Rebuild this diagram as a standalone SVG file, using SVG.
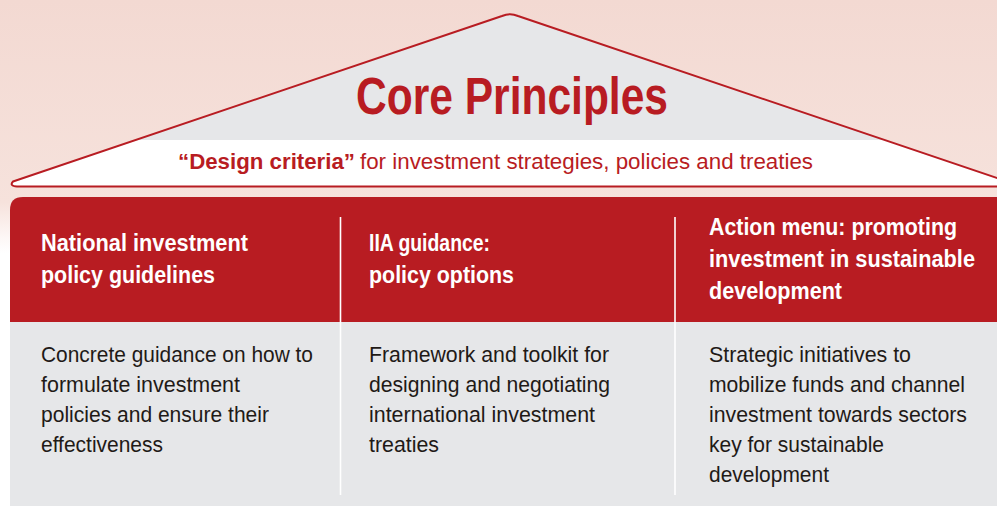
<svg xmlns="http://www.w3.org/2000/svg" width="997" height="506" viewBox="0 0 997 506">
  <defs>
    <linearGradient id="bg" x1="0" y1="0" x2="0" y2="506" gradientUnits="userSpaceOnUse">
      <stop offset="0" stop-color="#f3d9d2"/>
      <stop offset="0.40" stop-color="#f6e2dc"/>
      <stop offset="0.47" stop-color="#fdf7f6"/>
      <stop offset="0.50" stop-color="#ffffff"/>
      <stop offset="1" stop-color="#ffffff"/>
    </linearGradient>
    <linearGradient id="roofFill" x1="0" y1="0" x2="0" y2="200" gradientUnits="userSpaceOnUse">
      <stop offset="0" stop-color="#e6e7e9"/>
      <stop offset="0.70" stop-color="#e6e7e9"/>
      <stop offset="0.70" stop-color="#ffffff"/>
      <stop offset="1" stop-color="#ffffff"/>
    </linearGradient>
    <style>
      .title { font-family: "Liberation Sans Narrow", "Liberation Sans", Arial, sans-serif; font-weight: bold; fill: #b81c22; }
      .sub { font-family: "Liberation Sans Narrow", "Liberation Sans", Arial, sans-serif; font-size: 22px; fill: #b81c22; }
      .head { font-family: "Liberation Sans Narrow", "Liberation Sans", Arial, sans-serif; font-size: 24px; font-weight: bold; fill: #ffffff; }
      .body { font-family: "Liberation Sans Narrow", "Liberation Sans", Arial, sans-serif; font-size: 22px; fill: #1f1a17; }
      .divider { stroke: #ffffff; stroke-width: 1.6; }
    </style>
  </defs>

  <!-- background wash -->
  <rect x="0" y="0" width="997" height="506" fill="url(#bg)"/>

  <!-- roof -->
  <g id="roof">
    <path d="M 17,186.5 Q 9,186 13,181.5 L 502,16 Q 510,12.5 518,16 L 1022,186.5 Z" fill="url(#roofFill)" stroke="#b81c22" stroke-width="2" stroke-linejoin="round"/>
    <text class="title" x="356" y="114" font-size="51" textLength="312" lengthAdjust="spacingAndGlyphs">Core Principles</text>
    <text class="sub" y="169"><tspan x="178" font-weight="bold" textLength="177" lengthAdjust="spacingAndGlyphs">“Design criteria”</tspan><tspan x="360" textLength="453" lengthAdjust="spacingAndGlyphs">for investment strategies, policies and treaties</tspan></text>
  </g>

  <!-- header band and body panel -->
  <g id="table">
    <path d="M 10,210 Q 10,197 23,197 L 997,197 L 997,322 L 10,322 Z" fill="#b81c22"/>
    <rect x="10" y="322" width="987" height="184" fill="#e6e7e9"/>
  </g>

  <g id="dividers">
    <line class="divider" x1="340.5" y1="217" x2="340.5" y2="495"/>
    <line class="divider" x1="675" y1="217" x2="675" y2="495"/>
  </g>

  <g id="col-national">
    <text class="head" x="41" y="251" textLength="207" lengthAdjust="spacingAndGlyphs">National investment</text>
    <text class="head" x="41" y="283" textLength="174" lengthAdjust="spacingAndGlyphs">policy guidelines</text>
    <text class="body" x="41" y="362" textLength="272" lengthAdjust="spacingAndGlyphs">Concrete guidance on how to</text>
    <text class="body" x="41" y="392" textLength="199" lengthAdjust="spacingAndGlyphs">formulate investment</text>
    <text class="body" x="41" y="422" textLength="228" lengthAdjust="spacingAndGlyphs">policies and ensure their</text>
    <text class="body" x="41" y="452" textLength="122" lengthAdjust="spacingAndGlyphs">effectiveness</text>
  </g>

  <g id="col-iia">
    <text class="head" x="369" y="251" textLength="121" lengthAdjust="spacingAndGlyphs">IIA guidance:</text>
    <text class="head" x="369" y="283" textLength="145" lengthAdjust="spacingAndGlyphs">policy options</text>
    <text class="body" x="369" y="362" textLength="240" lengthAdjust="spacingAndGlyphs">Framework and toolkit for</text>
    <text class="body" x="369" y="392" textLength="241" lengthAdjust="spacingAndGlyphs">designing and negotiating</text>
    <text class="body" x="369" y="422" textLength="226" lengthAdjust="spacingAndGlyphs">international investment</text>
    <text class="body" x="369" y="452" textLength="70" lengthAdjust="spacingAndGlyphs">treaties</text>
  </g>

  <g id="col-action">
    <text class="head" x="709" y="235" textLength="248" lengthAdjust="spacingAndGlyphs">Action menu: promoting</text>
    <text class="head" x="709" y="267" textLength="266" lengthAdjust="spacingAndGlyphs">investment in sustainable</text>
    <text class="head" x="709" y="299" textLength="133" lengthAdjust="spacingAndGlyphs">development</text>
    <text class="body" x="709" y="362" textLength="202" lengthAdjust="spacingAndGlyphs">Strategic initiatives to</text>
    <text class="body" x="709" y="392" textLength="256" lengthAdjust="spacingAndGlyphs">mobilize funds and channel</text>
    <text class="body" x="709" y="422" textLength="258" lengthAdjust="spacingAndGlyphs">investment towards sectors</text>
    <text class="body" x="709" y="452" textLength="175" lengthAdjust="spacingAndGlyphs">key for sustainable</text>
    <text class="body" x="709" y="482" textLength="120" lengthAdjust="spacingAndGlyphs">development</text>
  </g>
</svg>
